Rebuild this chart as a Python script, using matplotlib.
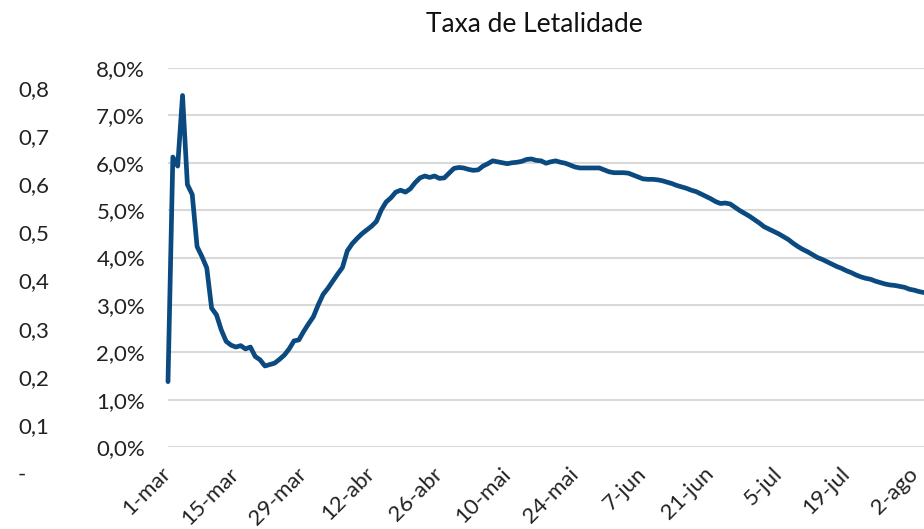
import matplotlib.pyplot as plt
import matplotlib.ticker as mticker
import pandas as pd

plt.rcParams['font.family'] = ['Lato', 'DejaVu Sans']

# Taxa de letalidade diária (%), de 1-mar a 4-ago
letalidade = [
    1.38, 6.12, 5.93, 7.42, 5.54, 5.33, 4.23, 4.02, 3.78, 2.93,
    2.79, 2.47, 2.23, 2.15, 2.11, 2.14, 2.07, 2.11, 1.91, 1.84,
    1.71, 1.74, 1.77, 1.85, 1.94, 2.07, 2.24, 2.26, 2.44, 2.60,
    2.75, 3.00, 3.22, 3.35, 3.50, 3.65, 3.79, 4.14, 4.29, 4.40,
    4.50, 4.58, 4.66, 4.76, 5.00, 5.17, 5.26, 5.38, 5.42, 5.38,
    5.45, 5.58, 5.68, 5.72, 5.69, 5.72, 5.67, 5.68, 5.78, 5.88,
    5.90, 5.89, 5.86, 5.84, 5.85, 5.93, 5.98, 6.04, 6.02, 6.00,
    5.98, 6.00, 6.01, 6.03, 6.07, 6.08, 6.05, 6.04, 5.99, 6.02,
    6.04, 6.01, 5.99, 5.95, 5.91, 5.89, 5.89, 5.89, 5.89, 5.89,
    5.85, 5.81, 5.79, 5.79, 5.79, 5.78, 5.74, 5.70, 5.66, 5.65,
    5.65, 5.64, 5.62, 5.59, 5.56, 5.52, 5.49, 5.46, 5.42, 5.39,
    5.34, 5.29, 5.24, 5.18, 5.14, 5.15, 5.13, 5.06, 4.99, 4.93,
    4.87, 4.80, 4.73, 4.65, 4.60, 4.55, 4.50, 4.44, 4.38, 4.30,
    4.23, 4.17, 4.12, 4.06, 4.00, 3.96, 3.91, 3.86, 3.81, 3.77,
    3.72, 3.68, 3.63, 3.59, 3.56, 3.54, 3.50, 3.47, 3.44, 3.42,
    3.41, 3.39, 3.37, 3.33, 3.31, 3.28, 3.26,
]
datas = pd.date_range('2020-03-01', periods=len(letalidade), freq='D')

rotulos_x = ['1-mar', '15-mar', '29-mar', '12-abr', '26-abr', '10-mai',
             '24-mai', '7-jun', '21-jun', '5-jul', '19-jul', '2-ago']
ticks_x = pd.date_range('2020-03-01', periods=len(rotulos_x), freq='14D')

# eixo secundário (vazio) à esquerda
ticks_sec = [0, 0.1, 0.2, 0.3, 0.4, 0.5, 0.6, 0.7, 0.8]
rotulos_sec = ['-', '0,1', '0,2', '0,3', '0,4', '0,5', '0,6', '0,7', '0,8']

W, H = 924, 529
fig = plt.figure(figsize=(W / 100, H / 100), dpi=100)

# eixo principal
ax = fig.add_axes([168 / W, 82 / H, 756 / W, 379 / H])
ax.plot(datas, letalidade, color='#0b4a80', lw=3.4,
        solid_joinstyle='round', solid_capstyle='round', clip_on=False, zorder=3)
ax.set_xlim(datas[0], datas[-1])
ax.set_ylim(0, 8)
ax.set_yticks(range(9))
ax.yaxis.set_major_formatter(
    mticker.FuncFormatter(lambda v, p: f'{v:.1f}%'.replace('.', ',')))
ax.grid(axis='y', color='#d9d9d9', lw=1.5)
ax.set_axisbelow(True)
for s in ax.spines.values():
    s.set_visible(False)
ax.set_xticks(ticks_x)
ax.set_xticklabels(rotulos_x, rotation=45, ha='right', va='center',
                   rotation_mode='anchor')
ax.tick_params(axis='y', length=0, labelsize=16, pad=16.5, labelcolor='#222222')
ax.tick_params(axis='x', length=0, labelsize=16, pad=17, labelcolor='#222222')

# eixo secundário
ax2 = fig.add_axes([17 / W, 56 / H, 0.001, 385 / H])
ax2.set_ylim(0, 0.8)
ax2.set_yticks(ticks_sec)
ax2.set_yticklabels(rotulos_sec)
ax2.yaxis.tick_right()
ax2.set_xticks([])
ax2.tick_params(axis='y', length=0, labelsize=16, pad=0, labelcolor='#222222')
ax2.patch.set_visible(False)
for s in ax2.spines.values():
    s.set_visible(False)

fig.text(534 / W, 1 - 31.7 / H, 'Taxa de Letalidade', ha='center',
         va='baseline', fontsize=19, color='#111111')

fig.savefig('out.png', dpi=100)
